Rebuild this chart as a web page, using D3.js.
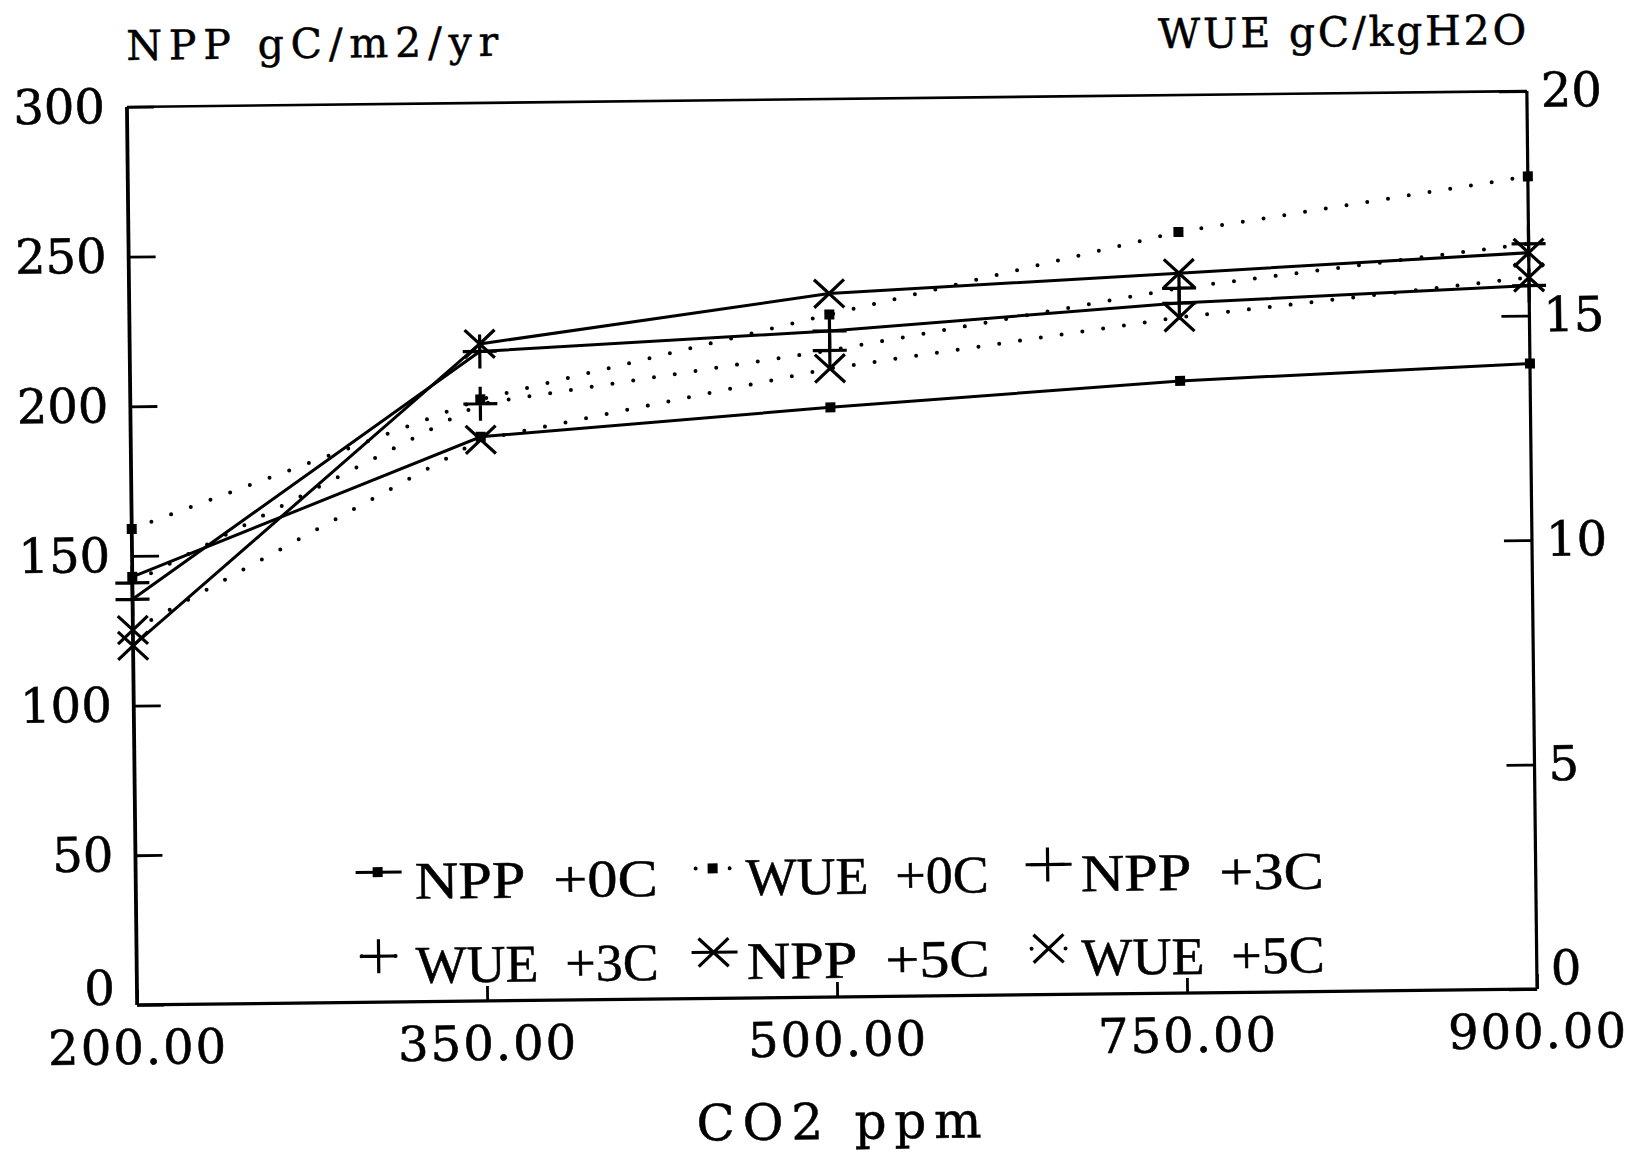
<!DOCTYPE html>
<html>
<head>
<meta charset="utf-8">
<script src="https://cdn.jsdelivr.net/npm/d3@7"></script>
<style>
  body { margin: 0; background: #fff; }
  text { fill: #000; }
</style>
</head>
<body>
<div id="chart"></div>
<script>
// Data
const co2 = ['200.00', '350.00', '500.00', '750.00', '900.00'];
const nppTicks = [0, 50, 100, 150, 200, 250, 300];
const wueTicks = [0, 5, 10, 15, 20];
const npp0 = [143, 188.5, 197, 204.5, 209];
const npp3 = [135.5, 217, 222.5, 230.5, 235];
const npp5 = [120, 219.5, 235, 240.5, 246];
const wue0 = [10.6, 13.4, 15.2, 16.95, 18.1];
const wue3 = [9.4, 13.3, 14.4, 15.7, 16.6];
const wue5 = [8.35, 12.5, 14.0, 15.05, 15.85];
const seriesNames = ['NPP  +0C', 'WUE  +0C', 'NPP  +3C', 'WUE  +3C', 'NPP  +5C', 'WUE  +5C'];

const series = [
  { name: seriesNames[0], values: npp0, axis: 'npp', marker: 'square', dotted: false },
  { name: seriesNames[1], values: wue0, axis: 'wue', marker: 'square', dotted: true },
  { name: seriesNames[2], values: npp3, axis: 'npp', marker: 'plus', dotted: false },
  { name: seriesNames[3], values: wue3, axis: 'wue', marker: 'plus', dotted: true },
  { name: seriesNames[4], values: npp5, axis: 'npp', marker: 'x', dotted: false },
  { name: seriesNames[5], values: wue5, axis: 'wue', marker: 'x', dotted: true }
];

// Chart dimensions
const width = 1639;
const height = 1156;
const plot = { left: 132, right: 1532, top: 99, bottom: 997 };

const svg = d3.select('#chart')
  .append('svg')
  .attr('width', width)
  .attr('height', height);

svg.append('rect').attr('width', width).attr('height', height).attr('fill', '#fff');

// the scanned figure is slightly tilted
const g = svg.append('g')
  .attr('transform', `rotate(-0.65, ${(plot.left + plot.right) / 2}, ${(plot.top + plot.bottom) / 2})`);

// Scales
const x = d3.scalePoint().domain(co2).range([plot.left, plot.right]);
const yNpp = d3.scaleLinear().domain([0, 300]).range([plot.bottom, plot.top]);
const yWue = d3.scaleLinear().domain([0, 20]).range([plot.bottom, plot.top]);

const tickFont = 'DejaVu Serif';

// Axes
const axL = g.append('g')
  .attr('transform', `translate(${plot.left},0)`)
  .call(d3.axisLeft(yNpp).tickValues(nppTicks).tickSize(-27).tickPadding(22));
const axR = g.append('g')
  .attr('transform', `translate(${plot.right},0)`)
  .call(d3.axisRight(yWue).tickValues(wueTicks).tickSize(-28).tickPadding(14));
const axB = g.append('g')
  .attr('transform', `translate(0,${plot.bottom})`)
  .call(d3.axisBottom(x).tickSize(-15).tickPadding(25));

[axL, axR, axB].forEach(a => {
  a.select('.domain').remove();
  a.selectAll('.tick line').attr('stroke', '#000').attr('stroke-width', 2.8);
  a.selectAll('.tick text')
    .attr('font-family', tickFont)
    .attr('font-size', 48)
    .attr('fill', '#000')
    .attr('stroke', '#000')
    .attr('stroke-width', 0.6);
});
axB.selectAll('.tick text').attr('letter-spacing', 2);
// the zero labels sit a little above their ticks
axL.selectAll('.tick text').filter(d => d === 0).attr('dy', '-0.02em');
axR.selectAll('.tick text').filter(d => d === 0).attr('dy', '-0.1em');

// Frame
const frame = g.append('g').attr('stroke', '#000').attr('fill', 'none');
frame.append('line').attr('x1', plot.left).attr('x2', plot.right).attr('y1', plot.top).attr('y2', plot.top).attr('stroke-width', 2.6);
frame.append('line').attr('x1', plot.left).attr('x2', plot.right).attr('y1', plot.bottom).attr('y2', plot.bottom).attr('stroke-width', 3.2);
frame.append('line').attr('x1', plot.left).attr('x2', plot.left).attr('y1', plot.top).attr('y2', plot.bottom).attr('stroke-width', 3.8);
frame.append('line').attr('x1', plot.right).attr('x2', plot.right).attr('y1', plot.top).attr('y2', plot.bottom).attr('stroke-width', 3.2);

// Axis titles
const titles = g.append('g')
  .attr('font-family', tickFont)
  .attr('stroke', '#000')
  .attr('stroke-width', 0.5)
  .style('white-space', 'pre');

titles.append('text')
  .attr('x', plot.left).attr('y', plot.top - 47)
  .attr('font-size', 41)
  .attr('textLength', 372).attr('lengthAdjust', 'spacing')
  .text('NPP  gC/m2/yr');

titles.append('text')
  .attr('x', plot.right - 368).attr('y', plot.top - 47)
  .attr('font-size', 41)
  .attr('textLength', 368).attr('lengthAdjust', 'spacing')
  .text('WUE  gC/kgH2O');

titles.append('text')
  .attr('x', (plot.left + plot.right) / 2 - 142).attr('y', 1139)
  .attr('font-size', 50)
  .attr('textLength', 285).attr('lengthAdjust', 'spacing')
  .text('CO2  ppm');

// Marker drawing
function drawMarker(sel, type, cx, cy) {
  if (type === 'square') {
    sel.append('rect')
      .attr('x', cx - 5).attr('y', cy - 5)
      .attr('width', 10).attr('height', 10)
      .attr('fill', '#000');
  } else if (type === 'plus') {
    sel.append('path')
      .attr('d', `M${cx - 17},${cy}H${cx + 17}M${cx},${cy - 17}V${cy + 17}`)
      .attr('stroke', '#000').attr('stroke-width', 3.2).attr('fill', 'none');
  } else {
    sel.append('path')
      .attr('d', `M${cx - 15},${cy - 14}L${cx + 15},${cy + 14}M${cx - 15},${cy + 14}L${cx + 15},${cy - 14}`)
      .attr('stroke', '#000').attr('stroke-width', 3.2).attr('fill', 'none');
  }
}

function lineStyle(sel, dotted) {
  sel.attr('fill', 'none').attr('stroke', '#000');
  if (dotted) {
    sel.attr('stroke-width', 4)
      .attr('stroke-linecap', 'round')
      .attr('stroke-dasharray', '0 21');
  } else {
    sel.attr('stroke-width', 3);
  }
}

// Legend
const legend = g.append('g');
series.forEach((s, i) => {
  const row = Math.floor(i / 3);
  const col = i % 3;
  const mx = 374 + col * 335;
  const my = 867 + row * 84;
  if (s.dotted) {
    const seg = legend.append('path').attr('d', `M${mx - 17},${my}H${mx + 18}`);
    lineStyle(seg, true);
    seg.attr('stroke-dasharray', '0 17');
  } else {
    const seg = legend.append('path').attr('d', `M${mx - 22},${my}H${mx + 24}`);
    lineStyle(seg, false);
  }
  drawMarker(legend, s.marker, mx, my);
  legend.append('text')
    .attr('x', mx + (col === 0 ? 37 : 33)).attr('y', my + 27)
    .attr('font-family', 'Liberation Serif')
    .attr('font-size', 53)
    .attr('textLength', 243)
    .attr('lengthAdjust', 'spacingAndGlyphs')
    .attr('stroke', '#000')
    .attr('stroke-width', 0.5)
    .style('white-space', 'pre')
    .text(s.name);
});

// Lines and markers
series.forEach(s => {
  const yScale = s.axis === 'npp' ? yNpp : yWue;
  const pts = s.values.map((v, i) => [x(co2[i]), yScale(v)]);
  const path = g.append('path')
    .datum(pts)
    .attr('d', d3.line());
  lineStyle(path, s.dotted);
  const mg = g.append('g');
  pts.forEach(p => drawMarker(mg, s.marker, p[0], p[1]));
});
</script>
</body>
</html>
